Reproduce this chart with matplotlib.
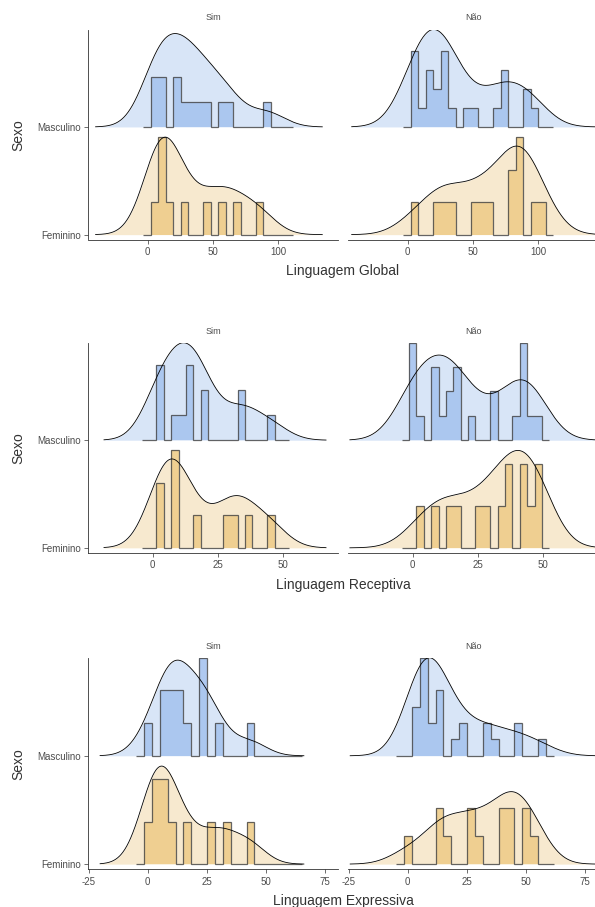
import numpy as np
import matplotlib
matplotlib.use('Agg')
import matplotlib.pyplot as plt

plt.rcParams['font.family'] = ['Liberation Sans', 'DejaVu Sans']
plt.rcParams['axes.unicode_minus'] = False

sexes = ['Feminino', 'Masculino']
facets = ['Sim', 'Não']
xlabels = ['Linguagem Global', 'Linguagem Receptiva', 'Linguagem Expressiva']
xticks = [[0, 50, 100], [0, 25, 50], [-25, 0, 25, 50, 75]]
xlims = [(-45.6, 146.3), (-24.6, 71.0), (-25.2, 80.8)]

# histogram bins (first edge, width) and counts per bin
global_start, global_width = -3.32, 5.754
global_sim_masc = [0, 2, 2, 0, 2, 1, 1, 1, 1, 0, 1, 1, 0, 0, 0, 0, 1, 0, 0, 0]
global_sim_fem = [0, 1, 3, 1, 0, 1, 0, 0, 1, 0, 1, 0, 1, 0, 0, 1, 0, 0, 0, 0]
global_nao_masc = [0, 4, 1, 3, 2, 4, 1, 0, 1, 1, 0, 0, 1, 3, 0, 0, 2, 1, 0, 0]
global_nao_fem = [0, 1, 0, 0, 1, 1, 1, 0, 0, 1, 1, 1, 0, 0, 2, 3, 0, 1, 1, 0]

rec_start, rec_width = -4.21, 2.825
rec_sim_masc = [0, 0, 3, 0, 1, 1, 3, 0, 2, 0, 0, 0, 0, 2, 0, 0, 0, 1, 0, 0]
rec_sim_fem = [0, 0, 2, 0, 3, 0, 0, 1, 0, 0, 0, 1, 1, 0, 1, 0, 0, 1, 0, 0]
rec_nao_masc = [0, 4, 1, 0, 3, 1, 2, 3, 0, 1, 0, 0, 2, 0, 0, 1, 4, 1, 1, 0]
rec_nao_fem = [0, 0, 1, 0, 1, 0, 1, 1, 0, 0, 1, 1, 0, 1, 2, 0, 2, 1, 2, 0]

exp_start, exp_width = -4.94, 3.347
exp_sim_masc = [0, 1, 0, 2, 2, 2, 1, 0, 3, 0, 1, 0, 0, 0, 1, 0, 0, 0, 0, 0, 0]
exp_sim_fem = [0, 1, 2, 2, 1, 0, 1, 0, 0, 1, 0, 1, 0, 0, 1, 0, 0, 0, 0, 0, 0]
exp_nao_masc = [0, 0, 3, 6, 2, 4, 0, 1, 2, 0, 0, 2, 1, 0, 0, 2, 0, 0, 1, 0]
exp_nao_fem = [0, 1, 0, 0, 0, 2, 1, 0, 0, 2, 1, 0, 0, 2, 2, 0, 2, 1, 0, 0]

# density bandwidth and x range of each panel (Sim, Não), estimated from the curves
global_bw = [13.8, 15.3]
global_range = [(-40, 134), (-43, 150)]
rec_bw = [7.0, 8.0]
rec_range = [(-18.6, 66.3), (-24, 72)]
exp_bw = [7.0, 8.0]
exp_range = [(-20.2, 66.2), (-24.4, 82)]

dens_fill = ['#f7e9cf', '#d8e5f7']
hist_fill = ['#efcd8b', '#a7c4ef']
hist_edge = '#4a4a4a'


def expand(counts, start, width):
    centres = start + width * (np.arange(len(counts)) + 0.5)
    return np.repeat(centres, counts)


def kde(x, grid, bw):
    z = (grid[:, None] - x[None, :]) / bw
    return np.exp(-0.5 * z ** 2).sum(axis=1) / (len(x) * bw * np.sqrt(2 * np.pi))


def draw_panel(ax, start, width, fem, masc, bw, drange, peak=0.905):
    groups = [np.asarray(fem), np.asarray(masc)]
    edges = start + width * np.arange(len(fem) + 1)
    vals = [expand(c, start, width) for c in groups]
    grid = np.linspace(drange[0], drange[1], 512)
    dens = [kde(v, grid, bw) for v in vals]
    dmax = max(d.max() for d in dens)
    hist = [c / c.sum() / width for c in groups]
    hmax = max(h.max() for h in hist)
    for i in range(2):
        y0 = i
        d = y0 + dens[i] / dmax * peak
        h = y0 + hist[i] / hmax * peak
        ax.fill_between(grid, y0, d, color=dens_fill[i], lw=0, zorder=2)
        ax.stairs(h, edges, baseline=y0, fill=True, color=hist_fill[i], alpha=0.9, lw=0, zorder=3)
        ax.stairs(h, edges, baseline=y0, fill=False, color=hist_edge, lw=0.9, alpha=0.85, zorder=4)
        ax.plot(grid, d, color='black', lw=0.6, zorder=5)


rows = [
    (global_start, global_width, [(global_sim_fem, global_sim_masc), (global_nao_fem, global_nao_masc)],
     global_bw, global_range),
    (rec_start, rec_width, [(rec_sim_fem, rec_sim_masc), (rec_nao_fem, rec_nao_masc)],
     rec_bw, rec_range),
    (exp_start, exp_width, [(exp_sim_fem, exp_sim_masc), (exp_nao_fem, exp_nao_masc)],
     exp_bw, exp_range),
]

W, H = 595, 907
fig = plt.figure(figsize=(W / 100, H / 100), dpi=100)

row_top = [30, 343.3, 658.3]
row_bot = [239.5, 552.7, 869]
col_left = [88.3, 348.3]
col_w = 250

for r, (start, width, panels, bws, ranges) in enumerate(rows):
    for c in range(2):
        ax = fig.add_axes([col_left[c] / W, 1 - row_bot[r] / H, col_w / W,
                           (row_bot[r] - row_top[r]) / H])
        fem, masc = panels[c]
        draw_panel(ax, start, width, fem, masc, bws[c], ranges[c])
        ax.set_xlim(*xlims[r])
        ax.set_ylim(-0.045, 1.90)
        ax.set_xticks(xticks[r])
        ax.tick_params(axis='both', length=3, width=0.5, color='#333333',
                       labelsize=7, labelcolor='#4d4d4d', pad=2.5)
        for s in ['top', 'right']:
            ax.spines[s].set_visible(False)
        ax.spines['bottom'].set_linewidth(0.6)
        ax.spines['bottom'].set_color('#333333')
        if c == 0:
            ax.set_yticks([0, 1])
            ax.set_yticklabels(sexes)
            ax.spines['left'].set_linewidth(0.6)
            ax.spines['left'].set_color('#333333')
        else:
            ax.set_yticks([])
            ax.spines['left'].set_visible(False)
        ax.set_title(facets[c], fontsize=6.5, color='#4d4d4d', pad=7)

    fig.text(343 / W, 1 - (row_bot[r] + 32) / H, xlabels[r], ha='center', va='center',
             fontsize=10, color='#333333')
    fig.text(18 / W, 1 - (row_top[r] + row_bot[r]) / 2 / H, 'Sexo', rotation=90,
             ha='center', va='center', fontsize=10, color='#333333')

fig.savefig('out.png', dpi=100)
